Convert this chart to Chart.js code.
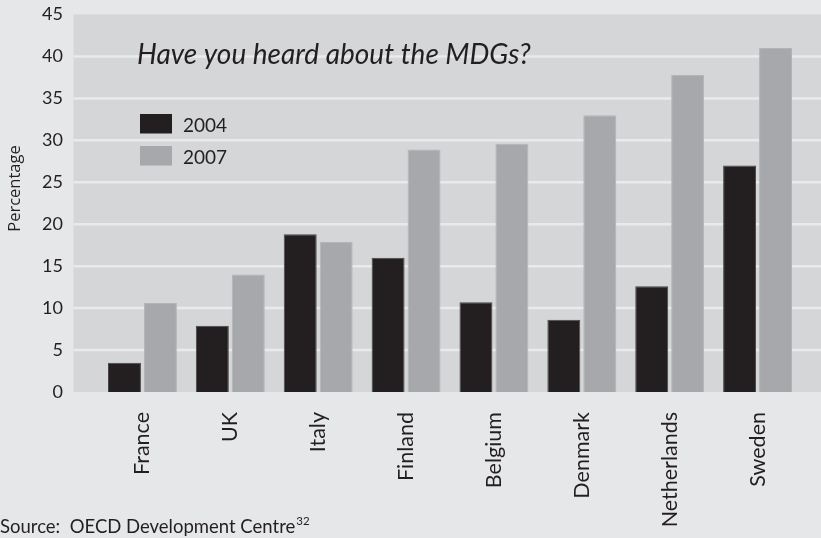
<!DOCTYPE html>
<html><head><meta charset="utf-8">
<script src="https://cdn.jsdelivr.net/npm/chart.js@4"></script>
<style>html,body{margin:0;padding:0;background:#e6e7e8;}#wrap{width:821px;height:538px;}</style>
</head><body><div id="wrap"><canvas id="c" width="821" height="538"></canvas></div>
<script>
const categories = ['France','UK','Italy','Finland','Belgium','Denmark','Netherlands','Sweden'];
const values2004 = [3.5, 7.9, 18.8, 16.0, 10.7, 8.6, 12.6, 27.0];
const values2007 = [10.6, 14.0, 17.9, 28.9, 29.6, 33.0, 37.8, 41.0];
const seriesLabels = ['2004', '2007'];
const yTicks = [0,5,10,15,20,25,30,35,40,45];
const chartTitle = 'Have you heard about the MDGs?';
const sourceText = 'Source:  OECD Development Centre';
const sourceSup = '32';
const yTitle = 'Percentage';

const DARK = '#231f20', GRAY = '#a7a8ab';
const FONT = 'Lato, "Open Sans", sans-serif';

const decor = {
  id: 'decor',
  beforeDraw(chart) {
    const ctx = chart.ctx, y = chart.scales.y;
    ctx.save();
    ctx.fillStyle = '#e6e7e8';
    ctx.fillRect(0, 0, chart.width, chart.height);
    const top = y.getPixelForValue(45), bot = y.getPixelForValue(0);
    ctx.fillStyle = '#d5d6d8';
    ctx.fillRect(73.5, top, chart.width - 73.5, bot - top);
    ctx.strokeStyle = '#e9eaeb';
    ctx.lineWidth = 2.5;
    yTicks.forEach(v => {
      if (v === 0 || v === 45) return;
      const py = y.getPixelForValue(v);
      ctx.beginPath(); ctx.moveTo(73.5, py); ctx.lineTo(chart.width, py); ctx.stroke();
    });
    ctx.restore();
  },
  afterDraw(chart) {
    const ctx = chart.ctx;
    ctx.save();
    ctx.fillStyle = '#231f20';
    ctx.font = 'italic 28px ' + FONT;
    ctx.textBaseline = 'alphabetic';
    ctx.textAlign = 'left';
    ctx.fillText(chartTitle, 137, 64);
    const ds = chart.data.datasets;
    ctx.font = '19px ' + FONT;
    ds.forEach((d, i) => {
      const ly = 114 + i * 32;
      ctx.fillStyle = d.backgroundColor;
      ctx.fillRect(140, ly, 32, 19.5);
      ctx.fillStyle = '#231f20';
      ctx.textBaseline = 'middle';
      ctx.fillText(d.label, 183, ly + 11.5);
    });
    ctx.save();
    ctx.translate(15, 188.5);
    ctx.rotate(-Math.PI / 2);
    ctx.font = '16.5px "Open Sans", sans-serif';
    ctx.textAlign = 'center';
    ctx.textBaseline = 'middle';
    ctx.fillText(yTitle, 0, 0);
    ctx.restore();
    ctx.font = '18.5px ' + FONT;
    ctx.textAlign = 'left';
    ctx.textBaseline = 'alphabetic';
    ctx.fillText(sourceText, 0, 533);
    const w = ctx.measureText(sourceText).width;
    ctx.font = '11.5px ' + FONT;
    ctx.fillText(sourceSup, w + 1, 525);
    ctx.restore();
  }
};

new Chart(document.getElementById('c'), {
  type: 'bar',
  data: {
    labels: categories,
    datasets: [
      { label: seriesLabels[0], data: values2004, backgroundColor: DARK, borderColor: '#4a4647', borderWidth: 1, borderSkipped: 'bottom' },
      { label: seriesLabels[1], data: values2007, backgroundColor: GRAY, borderColor: '#b3b4b7', borderWidth: 1, borderSkipped: 'bottom' }
    ]
  },
  options: {
    responsive: false,
    animation: false,
    devicePixelRatio: 1,
    categoryPercentage: 0.818,
    barPercentage: 0.917,
    layout: { padding: { top: 14.5, right: 19.5, left: 0, bottom: 0 } },
    plugins: { legend: { display: false }, tooltip: { enabled: false }, title: { display: false } },
    scales: {
      x: {
        grid: { display: false, drawTicks: false },
        border: { display: false },
        ticks: { color: '#231f20', font: { family: FONT, size: 21.5 }, minRotation: 90, maxRotation: 90, padding: 20, autoSkip: false },
        afterFit(s) { s.height = 146; s.paddingLeft = 0; s.paddingRight = 0; s.paddingTop = 0; s.paddingBottom = 0; }
      },
      y: {
        min: 0, max: 45,
        afterBuildTicks(s) { s.ticks = yTicks.map(v => ({ value: v })); },
        grid: { display: false, drawTicks: false },
        border: { display: false },
        ticks: { color: '#231f20', font: { family: FONT, size: 18 }, padding: 35.5 },
        afterFit(s) { s.width = 98.5; s.paddingTop = 0; s.paddingBottom = 0; s.paddingLeft = 0; s.paddingRight = 0; }
      }
    }
  },
  plugins: [decor]
});
</script></body></html>
